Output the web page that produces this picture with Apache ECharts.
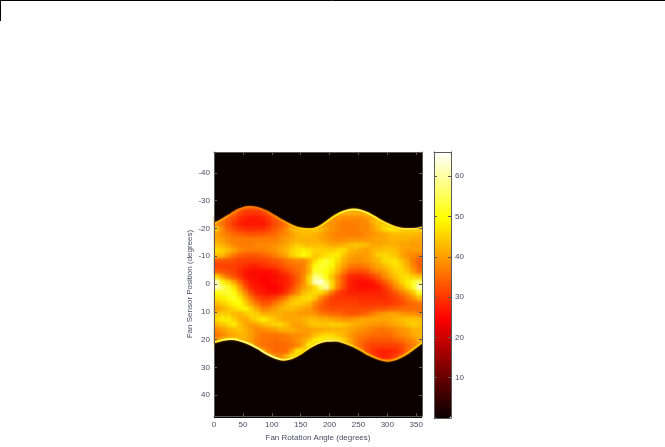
<!DOCTYPE html>
<html><head><meta charset="utf-8">
<style>html,body{margin:0;padding:0;background:#fff}
.layer{position:absolute;left:0;top:0;width:665px;height:447px}
#clip{position:absolute;left:214px;top:152px;width:208px;height:266px;overflow:hidden}
#soft{position:absolute;left:-214px;top:-152px;width:665px;height:447px;filter:blur(1.5px)}</style>
<script src="https://cdn.jsdelivr.net/npm/echarts@6/dist/echarts.min.js"></script>
</head><body>
<div id="sharp" class="layer"></div>
<div id="clip"><div id="soft"></div></div>
<div id="c" class="layer"></div>
<script>
const angles=[5,15,25,35,45,55,65,75,85,95,105,115,125,135,145,155,165,175,185,195,205,215,225,235,245,255,265,275,285,295,305,315,325,335,345,355];
const positions=[-46.55,-44.65,-42.75,-40.85,-38.95,-37.05,-35.15,-33.25,-31.35,-29.45,-27.55,-25.65,-23.75,-21.85,-19.95,-18.05,-16.15,-14.25,-12.35,-10.45,-8.55,-6.65,-4.75,-2.85,-0.95,0.95,2.85,4.75,6.65,8.55,10.45,12.35,14.25,16.15,18.05,19.95,21.85,23.75,25.65,27.55,29.45,31.35,33.25,35.15,37.05,38.95,40.85,42.75,44.65,46.55];
const blackRow=[0,0,0,0,0,0,0,0,0,0,0,0,0,0,0,0,0,0,0,0,0,0,0,0,0,0,0,0,0,0,0,0,0,0,0,0];
const r01=[0,0,0,30,33,33,33,33,32,30,0,0,0,0,0,0,0,0,0,0,40,40,45,45,45,42,40,0,0,0,0,0,0,0,0,0];
const r02=[0,33,33,35,32,30,30,30,31,33,33,33,0,0,0,0,0,0,0,40,42,44,42,42,42,42,44,44,40,0,0,0,0,0,0,0];
const r03=[36,36,34,32,29,28,27,27,28,30,33,34,34,0,0,0,0,0,40,40,40,39,38,38,38,38,39,42,46,44,42,0,0,0,38,36];
const r04=[38,36,33,30,28,27,27,27,27,29,32,34,35,38,40,40,40,40,40,40,39,38,37,37,37,38,38,41,44,46,46,46,44,44,44,44];
const r05=[44,38,34,32,30,29,29,29,29,31,33,35,38,42,44,45,45,46,43,41,39,38,37,37,37,38,38,40,43,46,48,48,47,47,47,46];
const r06=[40,38,37,35,34,33,33,33,33,34,35,37,38,40,42,43,43,42,41,39,38,37,37,37,37,37,38,39,40,41,42,43,43,43,43,42];
const r07=[41,40,38,37,37,37,37,37,37,37,37,38,40,41,42,42,42,42,41,40,39,38,38,39,39,39,39,40,41,41,42,42,42,42,41,41];
const r08=[43,42,40,38,37,37,37,38,38,38,39,40,41,43,45,44,43,43,43,42,41,41,42,43,44,44,43,41,41,42,42,42,41,41,40,40];
const r09=[46,45,43,41,38,37,37,37,37,38,39,41,42,45,47,48,47,45,45,45,45,46,46,43,42,41,40,42,43,44,44,43,41,40,40,40];
const r10=[43,43,39,36,34,33,33,33,34,35,37,39,41,45,47,50,48,44,45,47,48,48,44,41,40,40,40,42,45,46,45,44,41,39,38,37];
const r11=[33,33,33,32,31,31,31,31,31,32,33,34,36,37,38,38,41,46,50,53,50,46,42,40,39,39,40,41,43,46,47,47,44,41,37,34];
const r12=[31,31,31,31,30,29,28,28,29,30,31,32,34,35,36,37,42,50,53,52,49,44,40,37,36,36,37,39,41,43,45,47,45,42,38,34];
const r13=[34,33,32,31,29,27,26,26,26,26,27,29,31,33,35,37,42,52,52,50,47,42,37,33,32,32,33,36,38,40,43,45,46,44,40,36];
const r14=[46,40,36,33,30,27,26,26,25,25,26,27,28,31,34,38,46,58,56,50,44,38,33,29,28,28,29,31,34,38,41,44,46,47,45,44];
const r15=[62,50,46,41,35,30,27,26,25,25,26,27,28,30,34,38,46,62,64,56,46,38,33,28,27,26,26,27,30,33,37,41,45,48,52,56];
const r16=[62,56,52,47,40,33,28,27,26,25,25,26,28,31,36,40,43,46,55,60,46,37,32,28,27,26,26,26,27,30,33,38,41,46,52,62];
const r17=[50,52,53,50,44,38,32,28,27,26,26,27,30,34,38,43,45,46,46,42,36,31,29,28,28,28,28,28,28,29,31,33,37,40,44,52];
const r18=[47,48,50,52,48,42,36,32,30,30,31,34,37,42,44,46,47,44,38,34,31,30,30,30,30,29,29,29,29,29,30,31,33,36,39,43];
const r19=[43,45,47,49,50,45,40,36,33,33,36,39,42,44,45,44,43,38,35,32,31,31,31,31,31,30,30,30,30,30,30,31,32,34,35,36];
const r20=[40,42,44,46,48,49,45,41,37,38,40,42,43,43,42,41,40,37,34,33,32,32,32,32,32,32,32,32,33,33,34,34,35,35,35,35];
const r21=[44,45,45,43,42,44,46,45,42,42,42,42,41,41,40,40,40,39,37,36,35,35,34,33,33,34,35,37,39,40,41,41,40,39,39,38];
const r22=[46,48,48,45,42,41,44,46,48,46,44,42,41,41,41,42,43,43,42,42,41,40,39,39,40,41,41,41,41,41,41,42,43,44,44,43];
const r23=[42,44,46,48,44,41,40,41,43,44,45,46,44,41,40,41,43,44,44,44,45,45,44,43,42,41,40,39,39,39,40,41,42,44,45,44];
const r24=[38,40,42,43,44,42,40,38,38,39,40,42,42,42,41,40,40,41,41,42,42,42,42,41,40,39,38,37,36,36,37,38,39,40,42,42];
const r25=[36,38,40,41,42,42,40,38,36,36,36,36,37,38,38,39,40,43,45,46,46,44,42,40,38,37,36,35,35,35,35,37,38,39,41,42];
const r26=[40,44,48,48,44,42,40,37,36,36,35,36,36,37,39,41,44,48,50,52,52,50,46,41,38,35,34,33,33,33,33,34,35,37,38,41];
const r27=[46,46,46,46,46,48,44,38,36,35,35,35,35,36,38,42,50,50,50,50,50,50,47,45,37,35,32,31,31,31,31,31,32,35,37,40];
const r28=[0,0,0,0,46,46,48,48,42,37,35,35,35,40,48,48,48,0,0,0,0,0,46,44,42,38,32,30,28,28,28,29,31,35,38,40];
const r29=[0,0,0,0,0,0,48,48,50,46,40,38,42,48,48,46,0,0,0,0,0,0,0,0,40,38,36,31,29,28,29,31,33,36,36,0];
const r30=[0,0,0,0,0,0,0,0,50,48,46,44,40,45,0,0,0,0,0,0,0,0,0,0,0,36,36,33,32,31,32,33,33,0,0,0];
const rows=[blackRow,blackRow,blackRow,blackRow,blackRow,blackRow,blackRow,blackRow,blackRow,blackRow,
 r01,r02,r03,r04,r05,r06,r07,r08,r09,r10,r11,r12,r13,r14,r15,r16,r17,r18,r19,r20,r21,r22,r23,r24,r25,r26,r27,r28,r29,r30,
 blackRow,blackRow,blackRow,blackRow,blackRow,blackRow,blackRow,blackRow,blackRow,blackRow];
const edgeAngles=[0,15,30,45,60,75,90,105,120,135,150,165,180,195,210,225,240,255,270,285,300,315,330,345,360];
const upperEdge=[-21.6,-23.3,-25.2,-26.9,-27.7,-27.4,-26.2,-24.4,-22.6,-21,-20,-19.7,-20.4,-22.4,-24.6,-26.1,-26.8,-26.4,-25.1,-23.3,-21.6,-20.4,-19.8,-19.8,-20.4];
const lowerEdge=[21,20.1,19.8,20.3,21.4,23,24.9,26.4,27.2,26.6,25,22.9,21.2,20.4,20.3,21,22.2,23.9,25.6,26.9,27.6,27,25.5,23.3,21];
const xTicks=[0,50,100,150,200,250,300,350];
const yTicks=[-40,-30,-20,-10,0,10,20,30,40];
const cbTicks=[10,20,30,40,50,60];
const hot=['#0a0000','#550000','#aa0000','#ff0000','#ff5500','#ffaa00','#ffff00','#ffff80','#ffffff'];
const upperRim=[[0,'#ffc000'],[0.1,'#ff8000'],[0.25,'#ff6a00'],[0.33,'#ff9000'],[0.42,'#ffd000'],[0.55,'#ffe000'],[0.68,'#ffff50'],[0.8,'#ffea20'],[1,'#ffe040']];
const lowerRim=[[0,'#ffe000'],[0.06,'#ffff50'],[0.3,'#ffff80'],[0.42,'#ffe000'],[0.55,'#ffff60'],[0.68,'#ffc000'],[0.8,'#ff9000'],[0.92,'#ffb000'],[1,'#ffe000']];

const cells=[];
rows.forEach((row,j)=>row.forEach((v,i)=>{ if(v>0) cells.push([i,j,v]); }));
const ink='#4b4b63', line='#5a5a5a', font='"Liberation Sans",Arial,sans-serif';
const lab=(vals,margin)=>({show:true,customValues:vals,fontFamily:font,fontSize:8,color:ink,margin,hideOverlap:false});
const tick=(vals)=>({show:true,inside:true,length:3,customValues:vals,lineStyle:{color:line,width:1}});
const al={show:true,onZero:false,lineStyle:{color:line,width:1}};
const plotGrid={left:214,top:152,width:208,height:266,show:true,borderWidth:0,backgroundColor:'#0a0000'};
const heatOption=(withBar)=>({
 animation:false,
 grid:plotGrid,
 xAxis:{type:'category',data:angles,show:false},
 yAxis:{type:'category',data:positions,inverse:true,show:false},
 visualMap:{show:withBar,type:'continuous',min:0,max:66,dimension:2,seriesIndex:0,inRange:{color:hot},
  left:434,top:152,itemWidth:17,itemHeight:266,text:null,showLabel:false,calculable:false,realtime:false,padding:0},
 series:[{type:'heatmap',data:cells,itemStyle:{borderWidth:0},emphasis:{disabled:true},progressive:0}]
});
echarts.init(document.getElementById('sharp')).setOption(heatOption(true));
echarts.init(document.getElementById('soft')).setOption(heatOption(false));
const rimGrad=(stops)=>new echarts.graphic.LinearGradient(0,0,1,0,stops.map(s=>({offset:s[0],color:s[1]})));
const rimSeries=(vals,stops,origin)=>({type:'line',xAxisIndex:0,yAxisIndex:0,data:edgeAngles.map((a,i)=>[a,vals[i]]),smooth:0.4,symbol:'none',
 lineStyle:{width:2,color:rimGrad(stops),shadowBlur:2,shadowColor:'rgba(255,120,0,0.8)'},areaStyle:{color:'#0a0000',opacity:1,origin},z:2,silent:true});
echarts.init(document.getElementById('c')).setOption({
 animation:false,backgroundColor:'transparent',
 grid:[{left:214,top:152,width:208,height:266},{left:434,top:152,width:17,height:266}],
 xAxis:[
  {type:'value',gridIndex:0,z:5,position:'bottom',min:0,max:360,axisLine:al,axisTick:tick(xTicks),axisLabel:lab(xTicks,5),splitLine:{show:false},
   name:'Fan Rotation Angle (degrees)',nameLocation:'middle',nameGap:15,nameTextStyle:{fontFamily:font,fontSize:8,color:ink}},
  {type:'value',gridIndex:0,z:5,position:'top',min:0,max:360,axisLine:al,axisTick:tick(xTicks),axisLabel:{show:false},splitLine:{show:false}},
  {type:'value',gridIndex:1,z:5,position:'bottom',min:0,max:1,axisLine:al,axisTick:{show:false},axisLabel:{show:false},splitLine:{show:false}},
  {type:'value',gridIndex:1,z:5,position:'top',min:0,max:1,axisLine:al,axisTick:{show:false},axisLabel:{show:false},splitLine:{show:false}}
 ],
 yAxis:[
  {type:'value',gridIndex:0,z:5,position:'left',inverse:true,min:-47.5,max:47.5,axisLine:al,axisTick:tick(yTicks),axisLabel:lab(yTicks,4),splitLine:{show:false},
   name:'Fan Sensor Position (degrees)',nameLocation:'middle',nameGap:20,nameRotate:90,nameTextStyle:{fontFamily:font,fontSize:8,color:ink}},
  {type:'value',gridIndex:0,z:5,position:'right',inverse:true,min:-47.5,max:47.5,axisLine:al,axisTick:tick(yTicks),axisLabel:{show:false},splitLine:{show:false}},
  {type:'value',gridIndex:1,z:5,position:'right',min:0,max:66,axisLine:al,axisTick:tick(cbTicks),axisLabel:lab(cbTicks,4),splitLine:{show:false}},
  {type:'value',gridIndex:1,z:5,position:'left',min:0,max:66,axisLine:al,axisTick:tick(cbTicks),axisLabel:{show:false},splitLine:{show:false}}
 ],
 series:[rimSeries(upperEdge,upperRim,'start'),rimSeries(lowerEdge,lowerRim,'end')],
 graphic:[
  {type:'line',shape:{x1:0,y1:0.5,x2:665,y2:0.5},style:{stroke:'#000',lineWidth:1}},
  {type:'line',shape:{x1:0.5,y1:0,x2:0.5,y2:21},style:{stroke:'#000',lineWidth:1}}
 ]
});
</script></body></html>
